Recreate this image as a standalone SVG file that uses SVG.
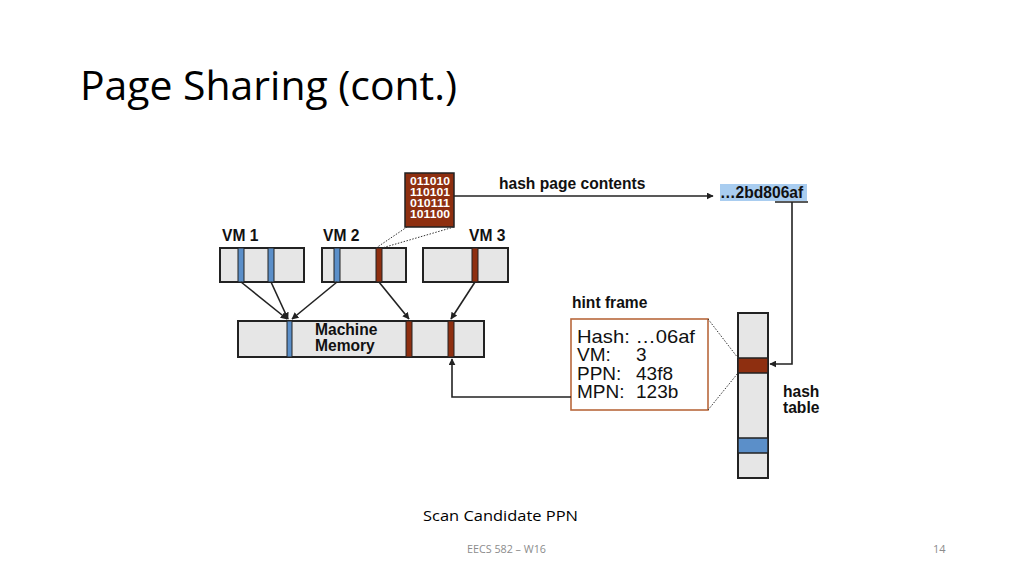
<svg xmlns="http://www.w3.org/2000/svg" width="1024" height="576" viewBox="0 0 1024 576">
<style>
.box{fill:#e6e6e6;stroke:#222;stroke-width:2}
.blue{fill:#5b8fc9;stroke:#222;stroke-width:1}
.red{fill:#8e2f10;stroke:#222;stroke-width:1}
.lbl{font-family:"Liberation Sans",Arial,sans-serif;font-weight:bold;fill:#111;font-size:15.6px}
.conn{stroke:#222;stroke-width:1.6;fill:none}
.dot{stroke:#333;stroke-width:1;stroke-dasharray:1.5 1.5;fill:none}
.hint{font-family:"Liberation Sans",Arial,sans-serif;font-size:19px;fill:#111}
.bits{font-family:"Liberation Sans",Arial,sans-serif;font-weight:bold;font-size:10.5px;fill:#fff}
</style>
<defs>
<marker id="ah" viewBox="0 0 10 10" refX="9" refY="5" markerWidth="7" markerHeight="7" markerUnits="userSpaceOnUse" orient="auto"><path d="M0,0 L10,5 L0,10 z" fill="#222"/></marker>
</defs>
<rect width="1024" height="576" fill="#fff"/>
<text x="80" y="100" font-family="'Open Sans','Noto Sans',sans-serif" font-size="40" textLength="377" lengthAdjust="spacingAndGlyphs" fill="#000">Page Sharing (cont.)</text>

<g id="vm1">
<text class="lbl" x="222" y="241">VM 1</text>
<rect class="box" x="220" y="248" width="84" height="34"/>
<rect class="blue" x="238" y="248" width="6" height="34"/>
<rect class="blue" x="268" y="248" width="6" height="34"/>
</g>
<g id="vm2">
<text class="lbl" x="323" y="241">VM 2</text>
<rect class="box" x="322" y="248" width="84" height="34"/>
<rect class="blue" x="334" y="248" width="6" height="34"/>
<rect class="red" x="376" y="248" width="6" height="34"/>
</g>
<g id="vm3">
<text class="lbl" x="469" y="241">VM 3</text>
<rect class="box" x="423" y="248" width="85" height="34"/>
<rect class="red" x="472" y="248" width="6" height="34"/>
</g>
<g id="machine-memory">
<rect class="box" x="238" y="321" width="246" height="36"/>
<rect class="blue" x="287" y="321" width="5" height="36"/>
<rect class="red" x="406" y="321" width="6" height="36"/>
<rect class="red" x="448" y="321" width="6" height="36"/>
<text class="lbl" x="315" y="335">Machine</text>
<text class="lbl" x="315" y="351">Memory</text>
</g>
<g id="page-bits">
<rect x="405" y="173" width="49" height="54" fill="#8e2f10" stroke="#222" stroke-width="1.5"/>
<text class="bits" x="410" y="185" textLength="40" lengthAdjust="spacingAndGlyphs">011010</text>
<text class="bits" x="410" y="196" textLength="40" lengthAdjust="spacingAndGlyphs">110101</text>
<text class="bits" x="410" y="207" textLength="40" lengthAdjust="spacingAndGlyphs">010111</text>
<text class="bits" x="410" y="218" textLength="40" lengthAdjust="spacingAndGlyphs">101100</text>
</g>
<g id="hash-value">
<rect x="720" y="184" width="87" height="17" fill="#a9cdf0"/>
<text class="lbl" x="720" y="198">…2bd806af</text>
</g>
<text class="lbl" x="499" y="189">hash page contents</text>
<g id="hint-frame">
<text class="lbl" x="572" y="308">hint frame</text>
<rect x="571" y="319" width="137" height="91" fill="#fff" stroke="#b8683c" stroke-width="1.6"/>
<text class="hint" x="577" y="343" textLength="118" lengthAdjust="spacingAndGlyphs">Hash: …06af</text>
<text class="hint" x="577" y="361">VM:</text><text class="hint" x="636" y="361">3</text>
<text class="hint" x="577" y="380">PPN:</text><text class="hint" x="636" y="380">43f8</text>
<text class="hint" x="577" y="398">MPN:</text><text class="hint" x="636" y="398">123b</text>
</g>
<g id="hash-table">
<rect class="box" x="738" y="313" width="30" height="165"/>
<rect class="red" x="738" y="358" width="30" height="15" style="stroke-width:1.5"/>
<rect class="blue" x="738" y="438" width="30" height="15" style="stroke-width:1.5"/>
<text class="lbl" x="783" y="397">hash</text>
<text class="lbl" x="783" y="413">table</text>
</g>
<g id="connectors">
<line class="conn" x1="241" y1="282" x2="287" y2="319" marker-end="url(#ah)"/>
<line class="conn" x1="271" y1="282" x2="288" y2="319" marker-end="url(#ah)"/>
<line class="conn" x1="337" y1="282" x2="292" y2="319" marker-end="url(#ah)"/>
<line class="conn" x1="379" y1="282" x2="409" y2="319" marker-end="url(#ah)"/>
<line class="conn" x1="475" y1="282" x2="451" y2="319" marker-end="url(#ah)"/>
<line class="dot" x1="407" y1="227" x2="376" y2="248"/>
<line class="dot" x1="454" y1="227" x2="382" y2="248"/>
<line class="conn" x1="454" y1="196" x2="713" y2="196" marker-end="url(#ah)"/>
<line class="conn" x1="775" y1="202" x2="808" y2="202"/>
<polyline class="conn" points="792,202 792,364 770,364" marker-end="url(#ah)"/>
<polyline class="conn" points="571,397 452,397 452,359" marker-end="url(#ah)"/>
<line class="dot" x1="708" y1="319" x2="738" y2="358"/>
<line class="dot" x1="708" y1="410" x2="738" y2="373"/>
</g>
<text x="423" y="521" font-family="'Open Sans','Noto Sans',sans-serif" font-size="15" textLength="155" lengthAdjust="spacingAndGlyphs" fill="#000">Scan Candidate PPN</text>
<text x="467" y="553" font-family="'Open Sans','Noto Sans',sans-serif" font-size="11" textLength="79" lengthAdjust="spacingAndGlyphs" fill="#8c8c8c">EECS 582 – W16</text>
<text x="933" y="553" font-family="'Open Sans','Noto Sans',sans-serif" font-size="11" fill="#8c8c8c">14</text>
</svg>
